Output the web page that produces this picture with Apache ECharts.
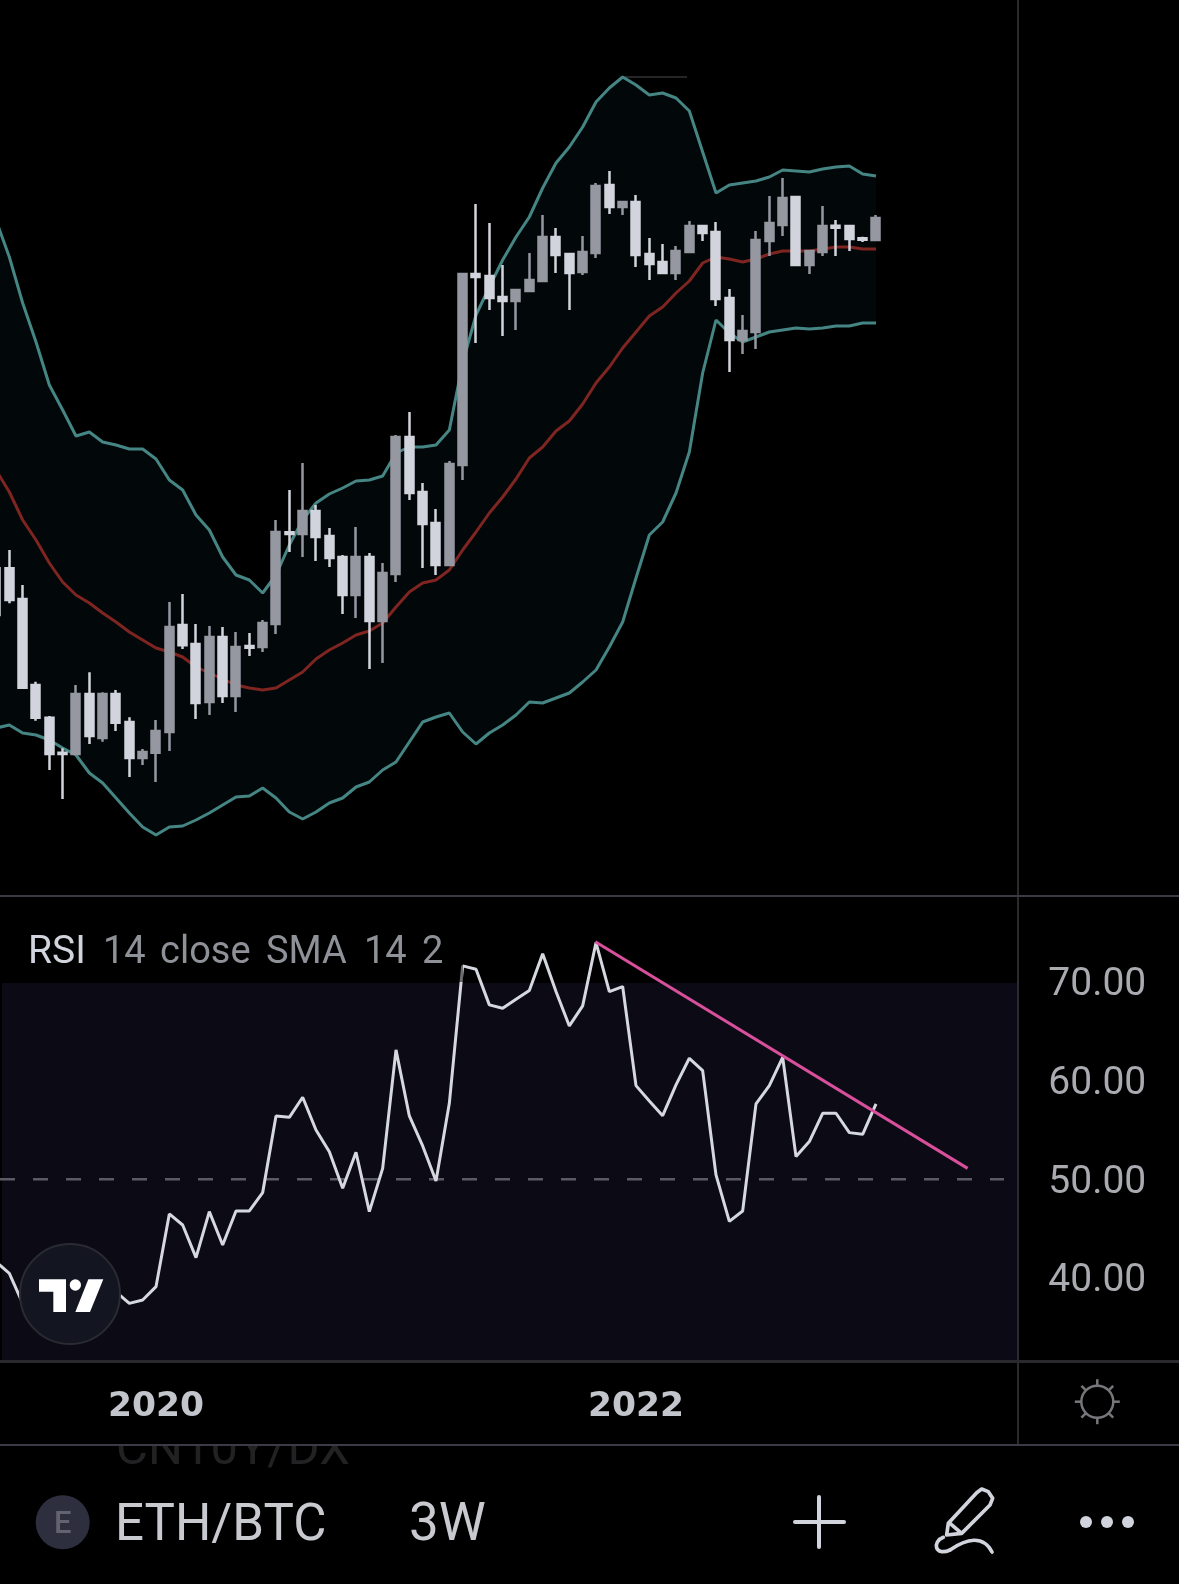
<!DOCTYPE html>
<html><head><meta charset="utf-8">
<style>html,body{margin:0;padding:0;background:#000;overflow:hidden}#c{width:1179px;height:1584px}</style>
<script src="https://cdn.jsdelivr.net/npm/echarts@6/dist/echarts.min.js"></script>
</head><body><div id="c"></div>
<script>
// Price pane values (no price scale is visible in the picture, so units are relative chart units)
const opens=[321.7,321.7,291,205,172.3,137.3,136,196,152,196,168,132,137.3,158,265,246,188,253,194,244,243,266,357.7,356,379,354,333,295,333,269,316,453,398,367,325,425,616,614,593,589,599,609,653,636,618,637,705,683,688,636,628,617,638,664,658,592,550,558,649,665,693,625,638,664.3,664,651.7,650];
const closes=[275,290,202.3,172.3,136,136,196,154,196,167.3,132,138,159,263,244.7,187,253,194,243,242.3,267,358,356,379,353,332,295,333,269,317,453,397,366,325,426,616,613,592,589,600,610,653,635,617,638,704,683,688,635,626,617,639,664,657,591,550,559,650,667,692,625,639,664,662.3,651,650.3,672];
const lows=[275,286.7,201.3,169.3,120,91,136,146,148.3,159,113,125,108,139,241,171,175,187,178,234,238,256,338,333,329,323,276,272,221,227,308,390,322,315,325,410,547,580,554,560,599,608,617,580,615,632,676,675,623,610,617,610,638,649,584,518,536,541,634,654,625,616,634,634,639,648,650];
const highs=[321.7,340,305,208.3,174,141.7,205,217.7,197.7,200,172.7,141,170,288,296,266,264,263,258,257,270,370,400,427,385,362,335,363,337,327,455,478,407,381,429,616,686,667,625,600,637,675,662,636,654,707,719,688,695,652,646,644,669,665,668,601,575,659,694,712,694,639,684,670,664,653.3,675];
const bbUpper=[670,633,587,548,505,480,454,458,448,445,441,441,431,410,400,375,360,333,315,310,297,315,345,370,387,396,402,409,410,414,437,443,443,445,460,527,575,603,630,653,673,702,727,743,763,788,802,813,805,795,797,792,779,738,697,705,707,709,713,720,719,718,721,723,724,716,714];
const bbBasis=[420,398,370,350,327,308,295,287,277,268,258,250,242,238,233,223,217,211,205,202,200,202,210,218,231,240,247,255,259,267,283,298,307,310,320,340,358,377,393,411,432,443,459,469,486,507,523,542,558,574,583,597,609,627,633,631,628,631,636,639,639,639,641,643,643,641,641];
const bbLower=[162,165,157,155,150,142,135,117,107,92,77,63,55,63,64,70,77,85,93,94,102,92,78,71,78,87,92,103,108,120,128,148,168,173,177,158,146,157,165,175,188,187,192,197,208,220,243,268,312,355,368,397,438,517,570,557,548,553,558,560,562,561,562,564,564,567,567];
// RSI pane
const rsi=[41.66,40.47,37.43,36.93,37.94,38.1,37.6,37.94,38.78,38.6,37.43,37.77,39.12,46.49,45.37,42.06,46.72,43.34,46.79,46.79,48.65,56.42,56.28,58.31,55,52.8,49.09,52.74,46.72,51.11,63.11,56.42,53.38,49.83,57.7,71.62,71.28,67.67,67.33,68.24,69.12,72.84,69.02,65.54,67.57,73.99,69.02,69.53,59.49,57.94,56.45,59.56,62.26,61.01,50.44,45.74,46.79,57.64,59.49,62.36,52.3,53.82,56.69,56.69,54.73,54.56,57.64];
const trendX=[44.95,72.87];
const trendY=[74.07,51.11];
const midX=[0.3,75.6];
const midY=[50,50];
// Time axis
const barCount=78;
const yearIndex=[12,48];
const yearText=['2020','2022'];
const categories=Array.from({length:barCount},(_,i)=>{const k=yearIndex.indexOf(i);return k>=0?yearText[k]:'';});

const candleData=opens.map((o,i)=>[o,closes[i],lows[i],highs[i]]);
const bandWidth=bbUpper.map((u,i)=>u-bbLower[i]);
const pair=(a,b)=>a.map((v,i)=>[v,b[i]]);

const GL=-10.667, GW=1040;
const TEAL='#458684', RED='#7f2521', UP='#9598a1', DOWN='#d1d4dc';
const FONT='Roboto';

const lineBase={type:'line',symbol:'none',silent:true,animation:false,z:3};
const chart=echarts.init(document.getElementById('c'),null,{renderer:'canvas'});
const sunRays=[];
for(let k=0;k<8;k++){const a=k*Math.PI/4;sunRays.push({type:'line',z:60,shape:{x1:1097.3+16*Math.cos(a),y1:1401.7+16*Math.sin(a),x2:1097.3+22.5*Math.cos(a),y2:1401.7+22.5*Math.sin(a)},style:{stroke:'#77777b',lineWidth:2.5}});}

chart.setOption({
 backgroundColor:'#000',
 animation:false,
 grid:[{left:GL,top:0,width:GW,height:890,outerBoundsMode:'none'},{left:GL,top:883.2,width:GW,height:493.5,outerBoundsMode:'none'}],
 xAxis:[
  {type:'category',gridIndex:0,data:categories,show:false,boundaryGap:true},
  {type:'category',gridIndex:1,data:categories,boundaryGap:true,axisLine:{show:false},axisTick:{show:false},splitLine:{show:false},
   axisLabel:{interval:0,hideOverlap:false,margin:13,color:'#c3c5cc',fontFamily:'DejaVu Sans',fontWeight:'bold',fontSize:34.5}},
  {type:'value',gridIndex:1,min:-0.5,max:77.5,show:false}
 ],
 yAxis:[
  {type:'value',gridIndex:0,min:0,max:890,show:false},
  {type:'value',gridIndex:1,min:30,max:80,interval:10,position:'right',axisLine:{show:false},axisTick:{show:false},splitLine:{show:false},
   axisLabel:{margin:19,verticalAlign:'top',lineHeight:7,color:'#a9abb1',fontFamily:FONT,fontSize:39,formatter:v=>(v===30||v===80)?'':v.toFixed(2)}}
 ],
 series:[
  {...lineBase,name:'BB base',data:bbLower,stack:'bb',lineStyle:{width:0},xAxisIndex:0,yAxisIndex:0},
  {...lineBase,name:'BB fill',data:bandWidth,stack:'bb',lineStyle:{width:0},areaStyle:{color:'#020709',opacity:1},xAxisIndex:0,yAxisIndex:0},
  {...lineBase,name:'Upper',data:bbUpper,lineStyle:{color:TEAL,width:3},xAxisIndex:0,yAxisIndex:0},
  {...lineBase,name:'Basis',data:bbBasis,lineStyle:{color:RED,width:3},xAxisIndex:0,yAxisIndex:0},
  {...lineBase,name:'Lower',data:bbLower,lineStyle:{color:TEAL,width:3},xAxisIndex:0,yAxisIndex:0},
  {type:'candlestick',z:6,name:'ETH/BTC',data:candleData,barWidth:8.5,xAxisIndex:0,yAxisIndex:0,silent:true,animation:false,
   itemStyle:{color:UP,color0:DOWN,borderColor:UP,borderColor0:DOWN,borderWidth:2.5}},
  {...lineBase,name:'RSI mid',data:pair(midX,midY),xAxisIndex:2,yAxisIndex:1,lineStyle:{color:'#5c5a66',width:2.5,type:[15,18]}},
  {...lineBase,name:'RSI',data:rsi,xAxisIndex:1,yAxisIndex:1,lineStyle:{color:'#d6d8df',width:3}},
  {...lineBase,name:'Trend',data:pair(trendX,trendY),xAxisIndex:2,yAxisIndex:1,lineStyle:{color:'#d84f9c',width:3}}
 ],
 graphic:{elements:[
  {type:'rect',z:0,silent:true,shape:{x:2,y:983,width:1015,height:377},style:{fill:'#0c0a14'}},
  {type:'line',z:1,shape:{x1:625,y1:77,x2:687,y2:77},style:{stroke:'#4a4a50',lineWidth:1}},
  // legend shade + text
  {type:'rect',z:50,shape:{x:0,y:920,width:463,height:62},style:{fill:'rgba(0,0,0,0.5)'}},
  {type:'text',z:60,style:{x:28,y:953,text:'RSI',fill:'#d1d4dc',font:'39px Roboto',verticalAlign:'middle'}},
  {type:'text',z:60,style:{x:103,y:953,text:'14',fill:'#8f9198',font:'38px Roboto',verticalAlign:'middle'}},
  {type:'text',z:60,style:{x:160,y:953,text:'close',fill:'#8f9198',font:'38px Roboto',verticalAlign:'middle'}},
  {type:'text',z:60,style:{x:266,y:953,text:'SMA',fill:'#8f9198',font:'38px Roboto',verticalAlign:'middle'}},
  {type:'text',z:60,style:{x:364,y:953,text:'14',fill:'#8f9198',font:'38px Roboto',verticalAlign:'middle'}},
  {type:'text',z:60,style:{x:422,y:953,text:'2',fill:'#8f9198',font:'38px Roboto',verticalAlign:'middle'}},
  // TradingView badge
  {type:'circle',z:70,shape:{cx:70,cy:1294,r:50},style:{fill:'#131620',stroke:'#2a2a33',lineWidth:2}},
  {type:'group',z:71,x:0,y:900,scaleX:1/3,scaleY:1/3,children:[
   {type:'polygon',z:71,shape:{points:[[117,1138],[198,1138],[198,1236],[160,1236],[160,1175],[117,1175]]},style:{fill:'#fff'}},
   {type:'circle',z:71,shape:{cx:226,cy:1155,r:17},style:{fill:'#fff'}},
   {type:'polygon',z:71,shape:{points:[[265,1138],[310,1138],[270,1236],[226,1236]]},style:{fill:'#fff'}}
  ]},
  // faded list rows behind the bottom bar
  {type:'text',z:80,style:{x:116,y:1476,text:'CN10Y/DX',fill:'#222224',font:'49px Roboto',verticalAlign:'bottom'}},
  {type:'rect',z:81,shape:{x:0,y:1425,width:1017,height:19},style:{fill:'#000'}},
  {type:'text',z:80,style:{x:117,y:1582,text:'ETHUSD',fill:'#222224',font:'49px Roboto',verticalAlign:'top'}},
  // separators
  {type:'rect',z:90,shape:{x:1017,y:0,width:2,height:1445},style:{fill:'#2b2b2f'}},
  {type:'rect',z:90,shape:{x:0,y:895,width:1179,height:2},style:{fill:'#3a3a42'}},
  {type:'rect',z:90,shape:{x:0,y:1360,width:1179,height:3},style:{fill:'#2a2a2e'}},
  {type:'rect',z:90,shape:{x:0,y:1444,width:1179,height:2},style:{fill:'#3b3b46'}},
  // gear / sun
  {type:'circle',z:60,shape:{cx:1097.3,cy:1401.7,r:16},style:{fill:'none',stroke:'#77777b',lineWidth:2.5}},
  ...sunRays,
  // bottom toolbar
  {type:'circle',z:60,shape:{cx:62.7,cy:1522.3,r:27},style:{fill:'#2e2f3e'}},
  {type:'text',z:61,style:{x:62.7,y:1525,text:'E',fill:'#62636f',font:'500 31px Roboto',align:'center',verticalAlign:'middle'}},
  {type:'text',z:60,style:{x:115,y:1527,text:'ETH/BTC',fill:'#c8cad0',font:'51px Roboto',verticalAlign:'middle'}},
  {type:'text',z:60,style:{x:409,y:1527,text:'3W',fill:'#c8cad0',font:'53px Roboto',verticalAlign:'middle'}},
  {type:'line',z:60,shape:{x1:795,y1:1522,x2:844,y2:1522},style:{stroke:'#d1d4dc',lineWidth:4,lineCap:'round'}},
  {type:'line',z:60,shape:{x1:819,y1:1497,x2:819,y2:1547},style:{stroke:'#d1d4dc',lineWidth:4,lineCap:'round'}},
  {type:'group',z:60,x:780,y:1350,scaleX:1/3,scaleY:1/3,children:[
   {type:'polygon',z:60,shape:{points:[[505,520],[590,428],[605,417],[625,425],[638,445],[630,465],[545,550],[500,555]]},style:{fill:'none',stroke:'#d1d4dc',lineWidth:11,lineJoin:'round'}},
   {type:'line',z:60,shape:{x1:510,y1:520,x2:545,y2:550},style:{stroke:'#d1d4dc',lineWidth:11}},
   {type:'bezierCurve',z:60,shape:{x1:490,y1:562,cpx1:455,cpy1:575,cpx2:465,cpy2:620,x2:510,y2:600},style:{fill:'none',stroke:'#d1d4dc',lineWidth:11,lineCap:'round'}},
   {type:'bezierCurve',z:60,shape:{x1:510,y1:600,cpx1:560,cpy1:565,cpx2:610,cpy2:555,x2:636,y2:606},style:{fill:'none',stroke:'#d1d4dc',lineWidth:11,lineCap:'round'}}
  ]},
  {type:'circle',z:60,shape:{cx:1086,cy:1522,r:6},style:{fill:'#d1d4dc'}},
  {type:'circle',z:60,shape:{cx:1107,cy:1522,r:6},style:{fill:'#d1d4dc'}},
  {type:'circle',z:60,shape:{cx:1128,cy:1522,r:6},style:{fill:'#d1d4dc'}}
 ]}
});
</script></body></html>
